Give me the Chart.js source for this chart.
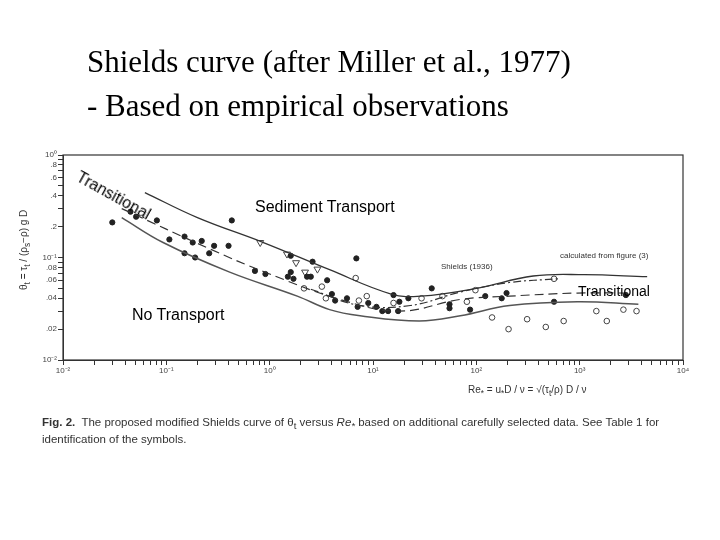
<!DOCTYPE html>
<html>
<head>
<meta charset="utf-8">
<script src="https://cdn.jsdelivr.net/npm/chart.js@4"></script>
<style>
  body { margin: 0; background: #fff; }
  #wrap { position: relative; width: 720px; height: 540px; }
  canvas { position: absolute; left: 0; top: 0; }
  .t { position: absolute; white-space: nowrap; }
  .title { left: 87px; font-family: "Liberation Serif"; font-size: 31px; color: #000; }
  .lab { font-family: "Liberation Sans"; font-size: 16px; color: #000; }
  .small { font-family: "Liberation Sans"; font-size: 8px; color: #333; }
  .cap { left: 42px; font-family: "Liberation Sans"; font-size: 11.5px; color: #333; }
</style>
</head>
<body>
<div id="wrap">
<canvas id="shields_chart" width="720" height="540"></canvas>
<div class="t title" style="top:44px">Shields curve (after Miller et al., 1977)</div>
<div class="t title" style="top:88px">- Based on empirical observations</div>
<div class="t lab" style="left:255px;top:198px">Sediment Transport</div>
<div class="t lab" style="left:132px;top:306px">No Transport</div>
<div class="t lab" style="left:82px;top:168px;transform:rotate(29deg);transform-origin:0 0;font-size:16px">Transitional</div>
<div class="t lab" style="left:578px;top:283px;font-size:14px;font-family:'Liberation Sans Narrow','Liberation Sans'">Transitional</div>
<div class="t small" style="left:441px;top:262px">Shields (1936)</div>
<div class="t small" style="left:560px;top:251px">calculated from figure (3)</div>
<div class="t small" style="left:468px;top:384px;font-size:10px">Re<sub>*</sub> = u<sub>*</sub>D / ν = √(τ<sub>t</sub>/ρ) D / ν</div>
<div class="t small" style="left:18px;top:290px;font-size:10px;transform:rotate(-90deg);transform-origin:0 0">θ<sub>t</sub> = τ<sub>t</sub> / (ρ<sub>s</sub>−ρ) g D</div>
<div class="t cap" style="top:416px"><b>Fig. 2.</b>&nbsp; The proposed modified Shields curve of θ<sub>t</sub> versus <i>Re<sub>*</sub></i> based on additional carefully selected data. See Table 1 for</div>
<div class="t cap" style="top:433px">identification of the symbols.</div>
</div>
<script>
// Shields curve envelope (Re*, theta)
const upper_re = [0.062, 0.2, 0.87, 3.8, 15, 29, 100, 355, 1100, 4500];
const upper_theta = [0.43, 0.245, 0.14, 0.076, 0.044, 0.042, 0.05, 0.066, 0.068, 0.065];
const lower_re = [0.037, 0.093, 0.41, 1.85, 3.8, 7.5, 28, 70, 210, 950, 3700];
const lower_theta = [0.245, 0.14, 0.072, 0.042, 0.031, 0.027, 0.024, 0.027, 0.034, 0.037, 0.035];
const mean_re = [0.037, 0.27, 0.87, 4.8, 18, 70, 210, 950, 2900];
const mean_theta = [0.30, 0.12, 0.073, 0.039, 0.030, 0.039, 0.042, 0.045, 0.045];
const shields_re = [2.5, 7.5, 23, 70, 210, 620];
const shields_theta = [0.049, 0.034, 0.034, 0.046, 0.057, 0.062];

// observations
const filled_re = [0.030, 0.045, 0.051, 0.081, 0.107, 0.15, 0.18, 0.15, 0.19, 0.22, 0.26, 0.29, 0.40, 0.43, 0.72, 0.91, 1.6, 1.5, 1.7, 1.6, 2.3, 2.5, 2.6, 3.6, 4.0, 4.3, 5.6, 6.9, 7.1, 9.0, 10.8, 12.3, 14, 15.8, 18, 22, 17.5, 37, 55, 55, 87, 122, 176, 196, 565, 2800];
const filled_theta = [0.22, 0.28, 0.25, 0.23, 0.15, 0.16, 0.14, 0.11, 0.10, 0.145, 0.11, 0.13, 0.13, 0.23, 0.074, 0.069, 0.072, 0.065, 0.062, 0.104, 0.065, 0.065, 0.091, 0.060, 0.044, 0.038, 0.040, 0.098, 0.033, 0.036, 0.033, 0.030, 0.030, 0.043, 0.037, 0.040, 0.030, 0.050, 0.035, 0.032, 0.031, 0.042, 0.040, 0.045, 0.037, 0.043];
const hollow_re = [2.15, 3.2, 3.5, 6.8, 7.3, 8.7, 15.8, 29.5, 47, 81, 98, 142, 205, 310, 470, 565, 700, 1450, 1830, 2650, 3550];
const hollow_theta = [0.050, 0.052, 0.040, 0.063, 0.038, 0.042, 0.036, 0.040, 0.042, 0.037, 0.048, 0.026, 0.020, 0.025, 0.021, 0.062, 0.024, 0.030, 0.024, 0.031, 0.030];
const tri_re = [0.81, 1.47, 1.8, 2.2, 2.9];
const tri_theta = [0.14, 0.108, 0.089, 0.072, 0.077];

const x_ticks = [0.01, 0.1, 1, 10, 100, 1000, 10000];
const y_ticks = [0.01, 0.02, 0.04, 0.06, 0.08, 0.1, 0.2, 0.4, 0.6, 0.8, 1];
const y_tick_labels = ["10⁻²", ".02", ".04", ".06", ".08", "10⁻¹", ".2", ".4", ".6", ".8", "10⁰"];
const x_tick_labels = ["10⁻²", "10⁻¹", "10⁰", "10¹", "10²", "10³", "10⁴"];

const pts = (xs, ys) => xs.map((x, i) => ({ x: x, y: ys[i] }));
const ink = "#333";

function minorTicks(lo, hi)
{
    const out = [];
    for (let d = lo; d < hi; d *= 10)
        for (let k = 1; k < 10; k++) out.push({ value: d * k });
    out.push({ value: hi });
    return out;
}

const frame_plugin =
{
    id: "frame",
    afterDraw(chart)
    {
        const a = chart.chartArea, c = chart.ctx;
        c.save();
        c.strokeStyle = ink;
        c.lineWidth = 1.2;
        c.strokeRect(a.left, a.top, a.right - a.left, a.bottom - a.top);
        c.restore();
    }
};

const shields_chart = new Chart("shields_chart",
{
    type: "scatter",
    data:
    {
        datasets:
        [
            { type: "line", data: pts(upper_re, upper_theta), borderColor: ink, borderWidth: 1.3, pointRadius: 0, tension: 0.4, fill: false },
            { type: "line", data: pts(lower_re, lower_theta), borderColor: "#555", borderWidth: 1.5, pointRadius: 0, tension: 0.4, fill: false },
            { type: "line", data: pts(mean_re, mean_theta), borderColor: ink, borderWidth: 1.2, borderDash: [9, 5], pointRadius: 0, tension: 0.4, fill: false },
            { type: "line", data: pts(shields_re, shields_theta), borderColor: ink, borderWidth: 1.2, borderDash: [8, 3, 2, 3], pointRadius: 0, tension: 0.4, fill: false },
            { data: pts(filled_re, filled_theta), backgroundColor: "#222", borderColor: "#222", pointRadius: 2.6 },
            { data: pts(hollow_re, hollow_theta), backgroundColor: "#fff", borderColor: "#444", borderWidth: 1, pointRadius: 2.8 },
            { data: pts(tri_re, tri_theta), backgroundColor: "#fff", borderColor: "#444", borderWidth: 1, pointStyle: "triangle", rotation: 180, pointRadius: 4 }
        ]
    },
    options:
    {
        animation: false,
        responsive: false,
        layout: { padding: { left: 33, right: 37, top: 155, bottom: 166 } },
        plugins: { legend: { display: false }, tooltip: { enabled: false } },
        scales:
        {
            x:
            {
                type: "logarithmic",
                min: 0.01,
                max: 10000,
                afterBuildTicks: (axis) => { axis.ticks = minorTicks(0.01, 10000); },
                afterFit: (axis) => { axis.height = 14; },
                grid: { drawOnChartArea: false, tickLength: 5, color: ink },
                border: { color: ink },
                ticks:
                {
                    autoSkip: false, maxRotation: 0, padding: 1,
                    color: "#444", font: { size: 8 },
                    callback: (v) => { const i = x_ticks.findIndex(t => Math.abs(t - v) / t < 1e-6); return i < 0 ? "" : x_tick_labels[i]; }
                }
            },
            y:
            {
                type: "logarithmic",
                min: 0.01,
                max: 1,
                afterBuildTicks: (axis) => { axis.ticks = minorTicks(0.01, 1); },
                afterFit: (axis) => { axis.width = 30; },
                grid: { drawOnChartArea: false, tickLength: 5, color: ink },
                border: { color: ink },
                ticks:
                {
                    autoSkip: false, padding: 1,
                    color: "#444", font: { size: 8 },
                    callback: (v) => { const i = y_ticks.findIndex(t => Math.abs(t - v) / t < 1e-6); return i < 0 ? "" : y_tick_labels[i]; }
                }
            }
        }
    },
    plugins: [frame_plugin]
});
</script>
</body>
</html>
